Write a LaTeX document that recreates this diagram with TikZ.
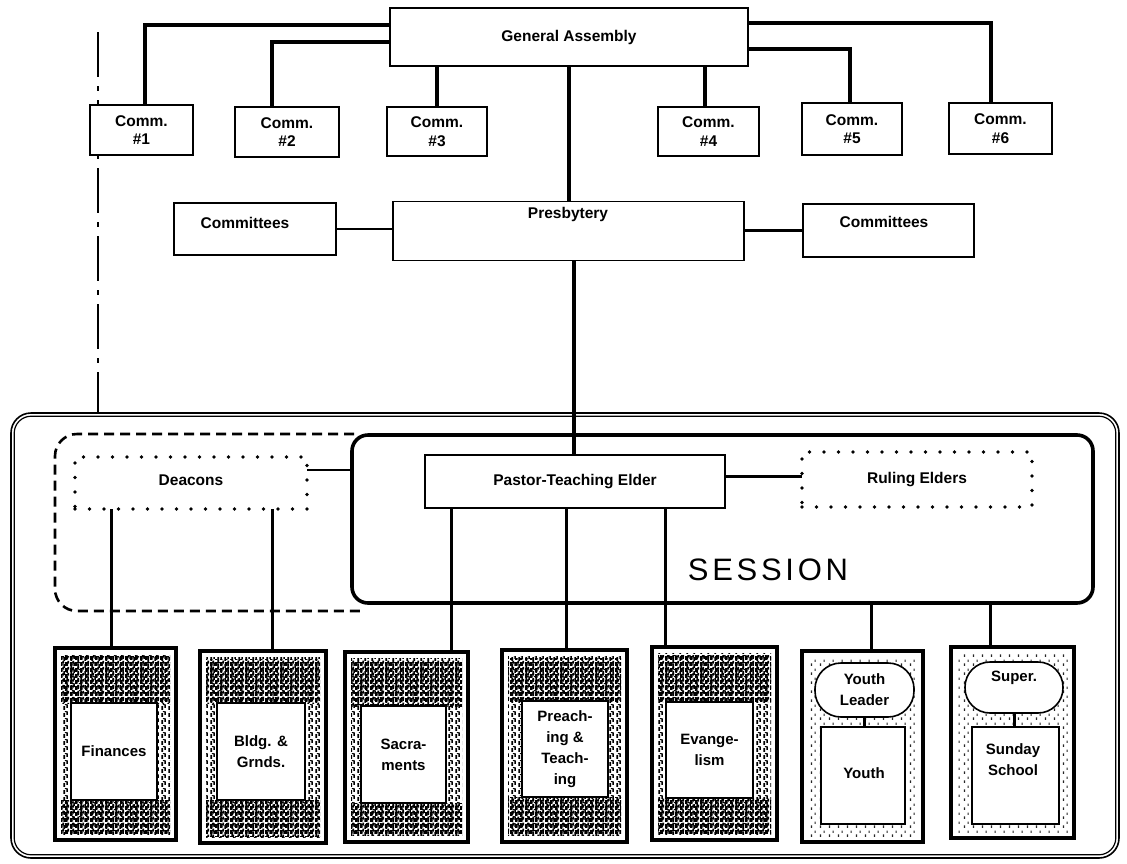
\documentclass[tikz,border=0pt]{standalone}
\usepackage{fontspec}
\setmainfont{Liberation Sans}
\newfontfamily\sessfam[LetterSpace=12]{Liberation Sans}
\usetikzlibrary{patterns}
\pgfdeclarepatternformonly{scanA}{\pgfqpoint{0pt}{0pt}}{\pgfqpoint{7pt}{7pt}}{\pgfqpoint{7pt}{7pt}}{%
 \pgfpathrectangle{\pgfqpoint{0.5pt}{0pt}}{\pgfqpoint{1.8pt}{4.5pt}}%
 \pgfpathrectangle{\pgfqpoint{3.8pt}{2.5pt}}{\pgfqpoint{1.8pt}{4pt}}%
 \pgfpathrectangle{\pgfqpoint{2pt}{5.6pt}}{\pgfqpoint{2pt}{1pt}}%
 \pgfusepath{fill}}
\pgfdeclarepatternformonly{scanD}{\pgfqpoint{0pt}{0pt}}{\pgfqpoint{5pt}{6pt}}{\pgfqpoint{5pt}{6pt}}{%
 \pgfpathrectangle{\pgfqpoint{0.2pt}{0pt}}{\pgfqpoint{2.4pt}{4.4pt}}%
 \pgfpathrectangle{\pgfqpoint{2.9pt}{2.6pt}}{\pgfqpoint{1.9pt}{3.4pt}}%
 \pgfpathrectangle{\pgfqpoint{2.6pt}{0.6pt}}{\pgfqpoint{1.2pt}{1.2pt}}%
 \pgfusepath{fill}}
\pgfdeclarepatternformonly{scanB}{\pgfqpoint{0pt}{0pt}}{\pgfqpoint{9pt}{9pt}}{\pgfqpoint{9pt}{9pt}}{%
 \pgfpathrectangle{\pgfqpoint{1pt}{0pt}}{\pgfqpoint{1.3pt}{3pt}}%
 \pgfpathrectangle{\pgfqpoint{5pt}{4.5pt}}{\pgfqpoint{1.3pt}{2.5pt}}%
 \pgfusepath{fill}}
\newcommand\labfont{\fontsize{15.5pt}{18.5pt}\selectfont\bfseries}
\newcommand\lowfont{\fontsize{15pt}{21pt}\selectfont\bfseries}
\tikzset{
  box/.style={draw, line width=1.8pt, fill=white, inner sep=0pt, outer sep=0pt, align=center, font=\labfont},
  dotbox/.style={draw, line width=3.8pt, dash pattern=on 0pt off 14.5pt, line cap=round, fill=white, inner sep=0pt, outer sep=0pt, align=center, font=\labfont},
  obox/.style={draw, line width=3.8pt, fill=white, inner sep=0pt, outer sep=0pt},
  ibox/.style={draw, line width=1.4pt, fill=white, inner sep=0pt, outer sep=0pt, align=center, font=\lowfont},
  pill/.style={draw, line width=1.6pt, fill=white, inner sep=0pt, outer sep=0pt, align=center, font=\lowfont},
  txt/.style={inner sep=0pt, align=center, font=\labfont},
  conn/.style={line width=3.6pt},
  midconn/.style={line width=2.6pt},
  lowconn/.style={line width=3pt},
  texA/.style={pattern=scanA, pattern color=black},
  texD/.style={pattern=scanD, pattern color=black},
  texB/.style={pattern=scanB, pattern color=black!85},
}
\begin{document}
\begin{tikzpicture}[x=1pt,y=-1pt]
\useasboundingbox (0,0) rectangle (1127,863);
\fill[white] (0,0) rectangle (1127,863);

% left dash-dot line
\coordinate (dl1) at (98,32);
\coordinate (dl2) at (98,413);
\draw[line width=1.6pt, dash pattern=on 45pt off 9pt on 5pt off 9pt] (dl1) -- (dl2);

% outer double rounded frame
\node[draw, line width=1.6pt, rounded corners=20pt, minimum width=1108pt, minimum height=445pt, inner sep=0pt] (Outer) at (565,635.5) {};
\draw[line width=1.2pt, rounded corners=17pt] ([shift={(4,4)}]Outer.north west) rectangle ([shift={(-4,-4)}]Outer.south east);

% dashed deacons group
\draw[line width=2.6pt, dash pattern=on 10pt off 6pt, rounded corners=22pt] (354,434) -- (55,434) -- (55,611) -- (360,611);

% session box
\node[draw, line width=3.6pt, rounded corners=16pt, fill=white, minimum width=741pt, minimum height=168pt, inner sep=0pt] (Session) at (722.5,519) {};
\node[inner sep=0pt, anchor=base, font=\fontsize{31pt}{31pt}\selectfont\sessfam] (SessT) at (768,580) {SESSION};

% top level
\node[box, minimum width=358pt, minimum height=58pt] (GA) at (569,37) {General Assembly};
\node[box, minimum width=103pt, minimum height=50pt] (C1) at (141.5,130) {Comm.\\\#1};
\node[box, minimum width=104pt, minimum height=50pt] (C2) at (287,132) {Comm.\\\#2};
\node[box, minimum width=100pt, minimum height=49pt] (C3) at (437,131.5) {Comm.\\\#3};
\node[box, minimum width=101pt, minimum height=49pt] (C4) at (708.5,131.5) {Comm.\\\#4};
\node[box, minimum width=100pt, minimum height=52pt] (C5) at (852,129) {Comm.\\\#5};
\node[box, minimum width=103pt, minimum height=51pt] (C6) at (1000.5,128.5) {Comm.\\\#6};

\node[box, minimum width=351pt, minimum height=59pt] (P) at (568.5,231) {};
\node[txt] (PT) at (568,214) {Presbytery};
\node[box, minimum width=162pt, minimum height=52pt] (CL) at (255,229) {};
\node[txt] (CLT) at (245,223) {Committees};
\node[box, minimum width=171pt, minimum height=53pt] (CR) at (888.5,230.5) {};
\node[txt] (CRT) at (884,222) {Committees};

% session level
\node[box, minimum width=300pt, minimum height=53pt] (Pastor) at (575,481.5) {Pastor-Teaching Elder};
\node[dotbox, minimum width=232pt, minimum height=52pt] (D) at (191,483) {};
\node[txt] (DT) at (191,480) {Deacons};
\node[dotbox, minimum width=230pt, minimum height=55pt] (RE) at (917,479.5) {Ruling Elders};

% connectors top
\draw[conn] ([yshift=12pt]GA.west) -| ([xshift=3.5pt]C1.north);
\draw[conn] ([yshift=-5pt]GA.west) -| ([xshift=-15pt]C2.north);
\draw[conn] (C3.north |- GA.south) -- (C3.north);
\coordinate (c4) at ([xshift=-3.5pt]C4.north);
\draw[conn] (c4 |- GA.south) -- (c4);
\draw[conn] ([yshift=-12pt]GA.east) -| ([xshift=-2pt]C5.north);
\draw[conn] ([yshift=14pt]GA.east) -| ([xshift=-9.5pt]C6.north);
\draw[conn] (GA.south) -- (GA.south |- P.north);
\draw[midconn] (CL.east) -- (CL.east -| P.west);
\draw[midconn] (CR.west) -- (CR.west -| P.east);
\coordinate (pp) at ([xshift=-1pt]Pastor.north);
\draw[conn] (pp |- P.south) -- (pp);
\coordinate (dj) at ([yshift=13pt]D.east);
\draw[midconn] (dj) -- (dj -| Session.west);
\coordinate (pj) at ([yshift=5pt]Pastor.east);
\draw[midconn] (pj) -- (pj -| RE.west);

% bottom boxes
\node[obox, minimum width=121pt, minimum height=192pt] (F) at (115.5,744) {};
\fill[texA] ([shift={(6,6)}]F.north west) rectangle ([shift={(-6,-6)}]F.south east);
\fill[texD] (61,656) rectangle (170,703);
\fill[texD] (61,800) rectangle (170,833);
\node[ibox, minimum width=86pt, minimum height=97pt] (Fi) at (114,751.5) {Finances};

\node[obox, minimum width=126pt, minimum height=192pt] (B) at (263,747) {};
\fill[texA] ([shift={(6,6)}]B.north west) rectangle ([shift={(-6,-6)}]B.south east);
\fill[texD] (206,659) rectangle (320,703);
\fill[texD] (206,800) rectangle (320,836);
\node[ibox, minimum width=88pt, minimum height=97pt] (Bi) at (261,751.5) {Bldg. \&\\Grnds.};

\node[obox, minimum width=123pt, minimum height=190pt] (Sa) at (406.5,747) {};
\fill[texA] ([shift={(6,6)}]Sa.north west) rectangle ([shift={(-6,-6)}]Sa.south east);
\fill[texD] (351,660) rectangle (462,706);
\fill[texD] (351,803) rectangle (462,835);
\node[ibox, minimum width=85pt, minimum height=97pt] (Sai) at (403.5,754.5) {Sacra-\\ments};

\node[obox, minimum width=125pt, minimum height=192pt] (Pr) at (564.5,746) {};
\fill[texA] ([shift={(6,6)}]Pr.north west) rectangle ([shift={(-6,-6)}]Pr.south east);
\fill[texD] (508,658) rectangle (621,701);
\fill[texD] (508,797) rectangle (621,835);
\node[ibox, minimum width=86pt, minimum height=96pt] (Pri) at (565,749) {Preach-\\ing \&\\Teach-\\ing};

\node[obox, minimum width=125pt, minimum height=193pt] (Ev) at (714.5,743.5) {};
\fill[texA] ([shift={(6,6)}]Ev.north west) rectangle ([shift={(-6,-6)}]Ev.south east);
\fill[texD] (658,655) rectangle (771,702);
\fill[texD] (658,798) rectangle (771,833);
\node[ibox, minimum width=87pt, minimum height=96pt] (Evi) at (709.5,750) {Evange-\\lism};

\node[obox, minimum width=121pt, minimum height=191pt] (Y) at (862.5,746.5) {};
\fill[texB] ([shift={(6,6)}]Y.north west) rectangle ([shift={(-6,-6)}]Y.south east);
\node[pill, rounded corners=26pt, minimum width=99pt, minimum height=54pt] (YL) at (864.5,690) {Youth\\Leader};
\node[ibox, minimum width=84pt, minimum height=97pt] (Yi) at (863,775.5) {};
\node[txt, font=\lowfont] (YiT) at (864,773) {Youth};
\draw[lowconn] (YL.south) -- (YL.south |- Yi.north);

\node[obox, minimum width=123pt, minimum height=191pt] (SS) at (1012.5,742.5) {};
\fill[texB] ([shift={(6,6)}]SS.north west) rectangle ([shift={(-6,-6)}]SS.south east);
\node[pill, rounded corners=25pt, minimum width=98pt, minimum height=51pt] (Su) at (1014,687.5) {};
\node[txt, font=\lowfont] (SuT) at (1014,678) {Super.};
\node[ibox, minimum width=87pt, minimum height=97pt] (SSi) at (1015.5,775.5) {};
\node[txt, font=\lowfont] (SSiT) at (1013,760) {Sunday\\School};
\draw[lowconn] (Su.south) -- (Su.south |- SSi.north);

% bottom connectors
\coordinate (f1) at ([xshift=-4.5pt]F.north);
\draw[lowconn] (f1 |- D.south) -- (f1);
\coordinate (b1) at ([xshift=9pt]B.north);
\draw[lowconn] (b1 |- D.south) -- (b1);
\coordinate (s1) at ([xshift=44.5pt]Sa.north);
\draw[lowconn] (s1 |- Pastor.south) -- (s1);
\coordinate (p1) at ([xshift=1.5pt]Pr.north);
\draw[lowconn] (p1 |- Pastor.south) -- (p1);
\coordinate (e1) at ([xshift=-49.5pt]Ev.north);
\draw[lowconn] (e1 |- Pastor.south) -- (e1);
\coordinate (y1) at ([xshift=8.5pt]Y.north);
\draw[lowconn] (y1 |- Session.south) -- (y1);
\coordinate (ss1) at ([xshift=-22.5pt]SS.north);
\draw[lowconn] (ss1 |- Session.south) -- (ss1);
\end{tikzpicture}
\end{document}
